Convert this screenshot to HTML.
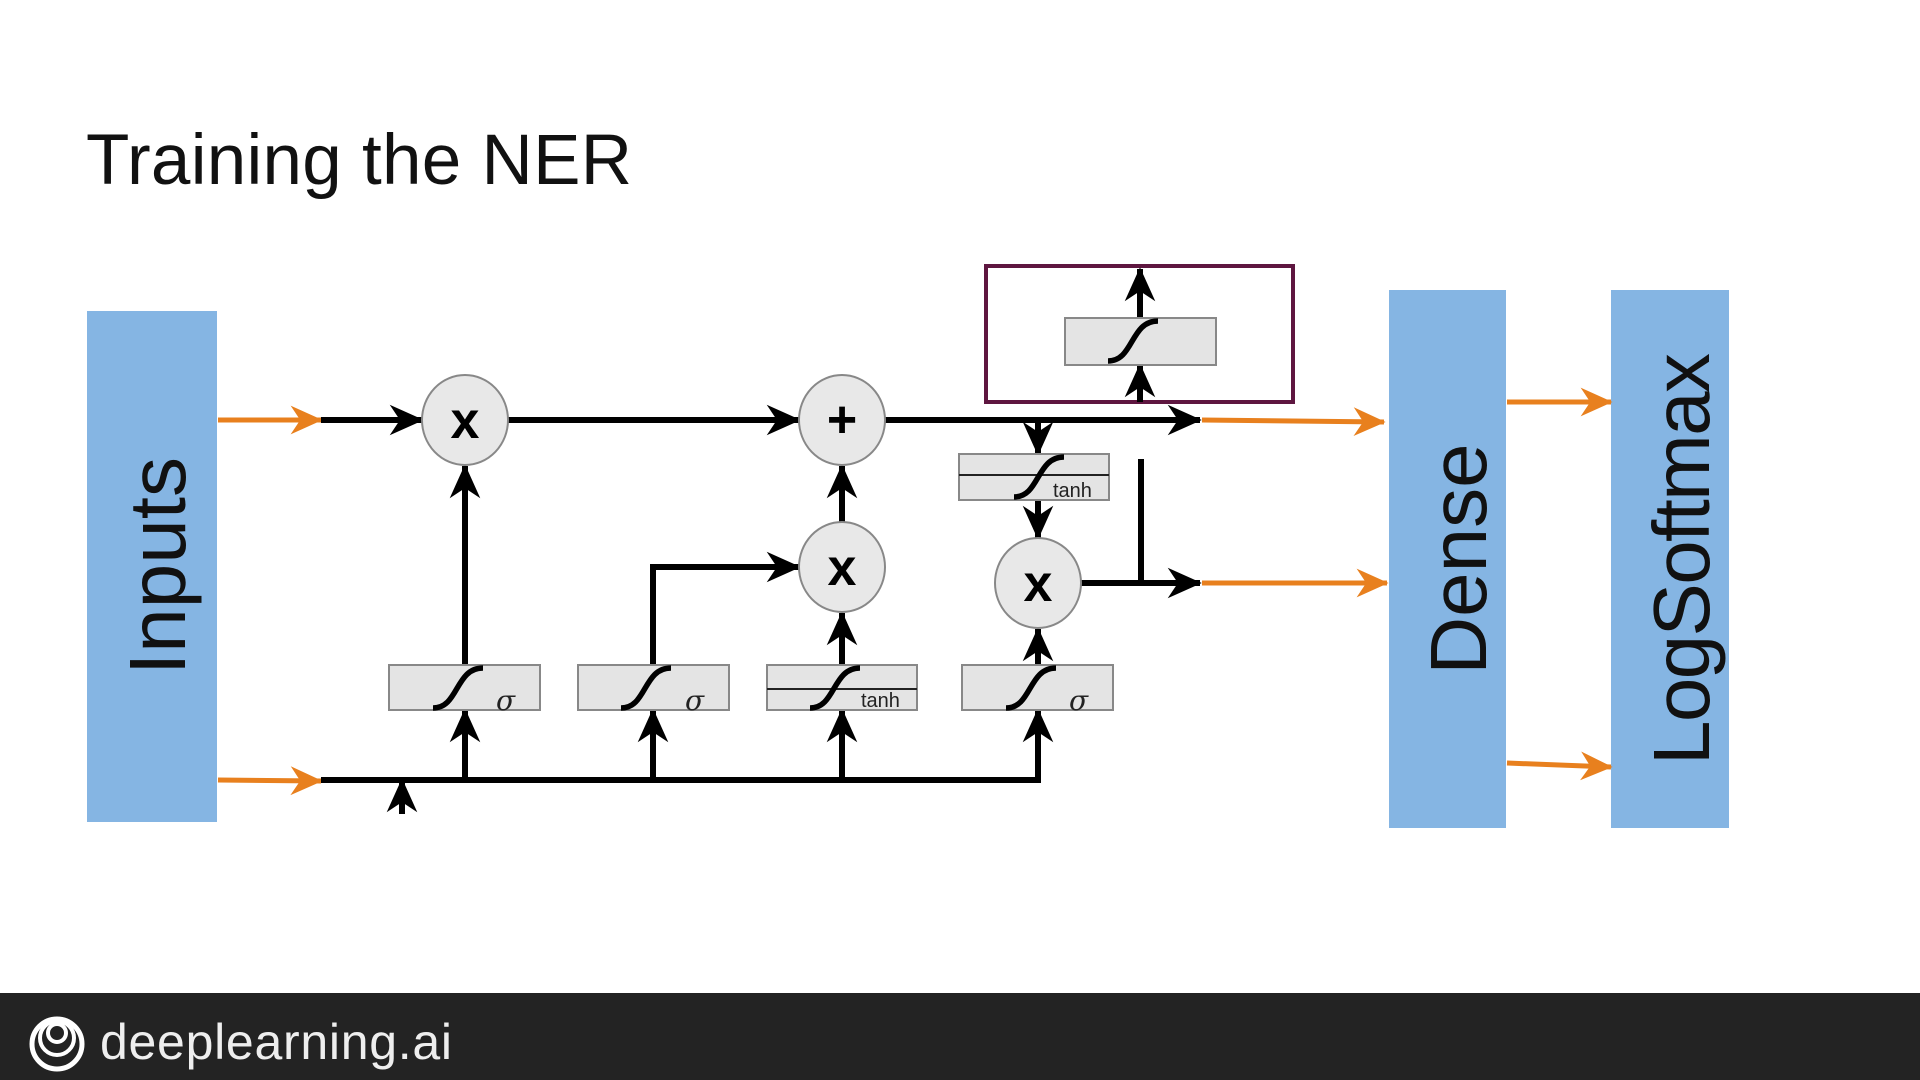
<!DOCTYPE html>
<html><head><meta charset="utf-8"><style>
html,body{margin:0;padding:0;background:#fff;}
body{width:1920px;height:1080px;overflow:hidden;position:relative;font-family:"Liberation Sans",sans-serif;}
</style></head><body>
<svg width="1920" height="1080" viewBox="0 0 1920 1080" xmlns="http://www.w3.org/2000/svg" style="position:absolute;left:0;top:0">
<defs>
<marker id="ah" viewBox="0 0 10 10" refX="9.5" refY="5" markerWidth="34" markerHeight="34" markerUnits="userSpaceOnUse" orient="auto">
<path d="M0,0.5 L10,5 L0,9.5 L3,5 z" fill="#000"/></marker>
<marker id="ao" viewBox="0 0 10 10" refX="9.5" refY="5" markerWidth="32" markerHeight="32" markerUnits="userSpaceOnUse" orient="auto">
<path d="M0,0.5 L10,5 L0,9.5 L3,5 z" fill="#e8801e"/></marker>
<g id="sig"><path d="M-32,20 C-6,20 -10,-20 18,-20" fill="none" stroke="#000" stroke-width="5.5"/></g>
</defs>
<text x="86" y="184" font-size="71" fill="#111" textLength="546">Training the NER</text>

<rect x="87" y="311" width="130" height="511" fill="#85b5e3"/>
<rect x="1389" y="290" width="117" height="538" fill="#85b5e3"/>
<rect x="1611" y="290" width="118" height="538" fill="#85b5e3"/>
<text transform="translate(185,566) rotate(-90)" text-anchor="middle" font-size="80" fill="#111">Inputs</text>
<text transform="translate(1486,559) rotate(-90)" text-anchor="middle" font-size="80" fill="#111">Dense</text>
<text transform="translate(1709,559) rotate(-90)" text-anchor="middle" font-size="80" fill="#111" textLength="412">LogSoftmax</text>

<g stroke="#e8801e" stroke-width="5" fill="none" marker-end="url(#ao)">
<line x1="218" y1="420" x2="321" y2="420"/>
<line x1="218" y1="780" x2="321" y2="781"/>
<line x1="1202" y1="420" x2="1384" y2="422"/>
<line x1="1202" y1="583" x2="1387" y2="583"/>
<line x1="1507" y1="402" x2="1611" y2="402"/>
<line x1="1507" y1="763" x2="1611" y2="767"/>
</g>

<rect x="986" y="266" width="307" height="136" fill="none" stroke="#5e1640" stroke-width="4"/>

<g stroke="#000" stroke-width="6" fill="none">
<line x1="321" y1="420" x2="422" y2="420" marker-end="url(#ah)"/>
<line x1="508" y1="420" x2="799" y2="420" marker-end="url(#ah)"/>
<line x1="885" y1="420" x2="1200" y2="420" marker-end="url(#ah)"/>
<line x1="1140" y1="402" x2="1140" y2="365" marker-end="url(#ah)"/>
<line x1="1140" y1="318" x2="1140" y2="269" marker-end="url(#ah)"/>
<line x1="1038" y1="420" x2="1038" y2="454" marker-end="url(#ah)"/>
<line x1="1038" y1="500" x2="1038" y2="538" marker-end="url(#ah)"/>
<line x1="1141" y1="459" x2="1141" y2="583"/>
<line x1="1081" y1="583" x2="1200" y2="583" marker-end="url(#ah)"/>
<line x1="465" y1="665" x2="465" y2="466" marker-end="url(#ah)"/>
<polyline points="653,665 653,567 799,567" marker-end="url(#ah)"/>
<line x1="842" y1="665" x2="842" y2="613" marker-end="url(#ah)"/>
<line x1="842" y1="522" x2="842" y2="466" marker-end="url(#ah)"/>
<line x1="1038" y1="665" x2="1038" y2="629" marker-end="url(#ah)"/>
<line x1="321" y1="780" x2="1041" y2="780"/>
<line x1="1038" y1="780" x2="1038" y2="710" marker-end="url(#ah)"/>
<line x1="465" y1="780" x2="465" y2="710" marker-end="url(#ah)"/>
<line x1="653" y1="780" x2="653" y2="710" marker-end="url(#ah)"/>
<line x1="842" y1="780" x2="842" y2="710" marker-end="url(#ah)"/>
<line x1="402" y1="814" x2="402" y2="780" marker-end="url(#ah)"/>
</g>

<g fill="#e8e8e8" stroke="#888" stroke-width="2">
<ellipse cx="465" cy="420" rx="43" ry="45"/>
<ellipse cx="842" cy="420" rx="43" ry="45"/>
<ellipse cx="842" cy="567" rx="43" ry="45"/>
<ellipse cx="1038" cy="583" rx="43" ry="45"/>
</g>
<g font-size="52" font-weight="bold" text-anchor="middle" fill="#000">
<text x="465" y="438">x</text>
<text x="842" y="437">+</text>
<text x="842" y="585">x</text>
<text x="1038" y="601">x</text>
</g>

<g fill="#e4e4e4" stroke="#888" stroke-width="2">
<rect x="1065" y="318" width="151" height="47"/>
<rect x="959" y="454" width="150" height="46"/>
<rect x="389" y="665" width="151" height="45"/>
<rect x="578" y="665" width="151" height="45"/>
<rect x="767" y="665" width="150" height="45"/>
<rect x="962" y="665" width="151" height="45"/>
</g>
<g stroke="#222" stroke-width="2">
<line x1="959" y1="475" x2="1109" y2="475"/>
<line x1="767" y1="689" x2="917" y2="689"/>
</g>
<use href="#sig" x="1140" y="341"/>
<use href="#sig" x="1046" y="477"/>
<use href="#sig" x="465" y="688"/>
<use href="#sig" x="653" y="688"/>
<use href="#sig" x="842" y="688"/>
<use href="#sig" x="1038" y="688"/>
<g font-size="28" font-style="italic" fill="#222" font-family="'DejaVu Serif',serif">
<text x="496" y="710">σ</text>
<text x="685" y="710">σ</text>
<text x="1069" y="710">σ</text>
</g>
<g font-size="20" fill="#222">
<text x="861" y="707">tanh</text>
<text x="1053" y="497">tanh</text>
</g>

<rect x="0" y="993" width="1920" height="87" fill="#232323"/>
<g fill="none" stroke="#fff">
<circle cx="57" cy="1044" r="25" stroke-width="5"/>
<circle cx="57" cy="1038" r="17" stroke-width="4"/>
<circle cx="57" cy="1033" r="9" stroke-width="4"/>
</g>
<text x="100" y="1059" font-size="50" fill="#eee" textLength="352">deeplearning.ai</text>
</svg>
</body></html>
